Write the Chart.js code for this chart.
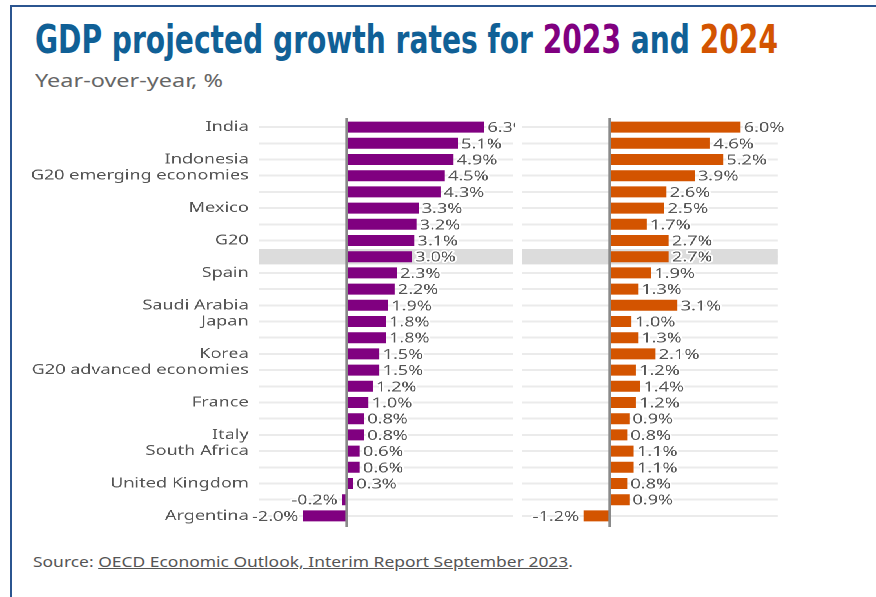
<!DOCTYPE html>
<html>
<head>
<meta charset="utf-8">
<script src="https://cdn.jsdelivr.net/npm/chart.js@4"></script>
<style>
  html, body { margin: 0; padding: 0; background: #fff; }
  body { width: 876px; height: 597px; position: relative; overflow: hidden; font-family: 'Noto Sans', 'Open Sans', sans-serif; }
  .frame { position: absolute; left: 10px; top: 5px; width: 880px; height: 610px; border-top: 2px solid #2b5590; border-left: 2px solid #2b5590; }
  .txt { position: absolute; white-space: nowrap; display: inline-block; transform-origin: 0 0; }
  #title { left: 35px; top: 20px; font-family: 'Liberation Sans Narrow', 'DejaVu Sans Condensed', 'Liberation Sans', sans-serif; font-weight: bold; font-size: 39px; line-height: 39px; color: #106096; }
  #title .y23 { color: #800080; }
  #title .y24 { color: #d35400; }
  #subtitle { left: 35px; top: 71px; font-size: 18px; line-height: 18px; color: #666; }
  #source { left: 33px; top: 554px; font-size: 15px; line-height: 15px; color: #555; }
  #source u { text-decoration: underline; }
  #stage { position: absolute; left: 0; top: 0; width: 680px; height: 597px; transform-origin: 0 0; }
  #stage canvas { position: absolute; }
</style>
</head>
<body>
<div class="frame"></div>
<div id="title" class="txt">GDP projected growth rates for <span class="y23">2023</span> and <span class="y24">2024</span></div>
<div id="subtitle" class="txt">Year-over-year, %</div>
<div id="source" class="txt">Source: <u>OECD Economic Outlook, Interim Report September 2023</u>.</div>
<div id="stage">
  <canvas id="chart2023" width="379" height="420" style="left:20px; top:112px;"></canvas>
  <canvas id="chart2024" width="220" height="420" style="left:405.2px; top:112px;"></canvas>
</div>
<script>
// ── Data ──────────────────────────────────────────────────────────────────────
const countries = [
  'India', '', 'Indonesia', 'G20 emerging economies', '', 'Mexico', '', 'G20', '',
  'Spain', '', 'Saudi Arabia', 'Japan', '', 'Korea', 'G20 advanced economies', '',
  'France', '', 'Italy', 'South Africa', '', 'United Kingdom', '', 'Argentina'
];
const growth2023 = [6.3, 5.1, 4.9, 4.5, 4.3, 3.3, 3.2, 3.1, 3.0, 2.3, 2.2, 1.9, 1.8, 1.8, 1.5, 1.5, 1.2, 1.0, 0.8, 0.8, 0.6, 0.6, 0.3, -0.2, -2.0];
const growth2024 = [6.0, 4.6, 5.2, 3.9, 2.6, 2.5, 1.7, 2.7, 2.7, 1.9, 1.3, 3.1, 1.0, 1.3, 2.1, 1.2, 1.4, 1.2, 0.9, 0.8, 1.1, 1.1, 0.8, 0.9, -1.2];
const highlightRow = 8;

// ── Style ─────────────────────────────────────────────────────────────────────
const STRETCH = 1.29;          // the reference is drawn wide, so the stage is stretched
const PURPLE = '#800080';
const ORANGE = '#d35400';
const GREY_TEXT = '#555555';
const FONT = "'Noto Sans', 'Open Sans', sans-serif";

document.getElementById('stage').style.transform = 'scaleX(' + STRETCH + ')';

// ── Plugins ───────────────────────────────────────────────────────────────────
const rowBand = {
  id: 'rowBand',
  beforeDatasetsDraw(chart) {
    const { ctx, chartArea: a, scales: { y } } = chart;
    const yc = y.getPixelForValue(highlightRow);
    const h = (y.getPixelForValue(1) - y.getPixelForValue(0)) * 0.95;
    ctx.save();
    ctx.fillStyle = '#dcdcdc';
    ctx.fillRect(a.left, yc - h / 2, a.right - a.left, h);
    ctx.restore();
  }
};

const zeroLine = {
  id: 'zeroLine',
  afterDatasetsDraw(chart) {
    const { ctx, chartArea: a, scales: { x } } = chart;
    const x0 = x.getPixelForValue(0);
    ctx.save();
    ctx.strokeStyle = '#8a8a8a';
    ctx.lineWidth = 2;
    ctx.beginPath();
    ctx.moveTo(x0, a.top - 1);
    ctx.lineTo(x0, a.bottom + 3);
    ctx.stroke();
    ctx.restore();
  }
};

const valueLabels = {
  id: 'valueLabels',
  afterDatasetsDraw(chart) {
    const ctx = chart.ctx;
    const meta = chart.getDatasetMeta(0);
    const data = chart.data.datasets[0].data;
    ctx.save();
    ctx.font = '14px ' + FONT;
    ctx.textBaseline = 'middle';
    ctx.lineJoin = 'round';
    meta.data.forEach((bar, i) => {
      const v = data[i];
      const txt = v.toFixed(1) + '%';
      const neg = v < 0;
      ctx.textAlign = neg ? 'right' : 'left';
      const tx = neg ? bar.x - 3.5 : bar.x + 2.5;
      ctx.strokeStyle = '#fff';
      ctx.lineWidth = 3;
      ctx.strokeText(txt, tx, bar.y + 1);
      ctx.fillStyle = GREY_TEXT;
      ctx.fillText(txt, tx, bar.y + 1);
    });
    ctx.restore();
  }
};

// ── Chart builder ─────────────────────────────────────────────────────────────
function makeChart(id, values, color, opts) {
  return new Chart(document.getElementById(id), {
    type: 'bar',
    data: {
      labels: countries,
      datasets: [{
        data: values,
        backgroundColor: color,
        borderWidth: 0,
        categoryPercentage: 1,
        barPercentage: 0.68
      }]
    },
    options: {
      indexAxis: 'y',
      responsive: false,
      animation: false,
      devicePixelRatio: 2,
      layout: { padding: { top: 7, bottom: 8, left: 0, right: opts.padRight } },
      plugins: { legend: { display: false }, tooltip: { enabled: false } },
      scales: {
        x: { display: false, min: opts.min, max: opts.max },
        y: {
          afterFit: s => {
            s.width = opts.axisWidth;
            s.paddingTop = 0;
            s.paddingBottom = 0;
          },
          border: { display: false },
          grid: { offset: false, drawTicks: false, color: '#ebebeb', lineWidth: 2 },
          ticks: {
            display: opts.showLabels,
            autoSkip: false,
            padding: 8,
            color: GREY_TEXT,
            font: { family: FONT, size: 14 }
          }
        }
      }
    },
    plugins: [rowBand, zeroLine, valueLabels]
  });
}

makeChart('chart2023', growth2023, PURPLE, { min: -4.01, max: 7.64, padRight: 1, axisWidth: 180.8, showLabels: true });
makeChart('chart2024', growth2024, ORANGE, { min: -4.0, max: 7.70, padRight: 22.1, axisWidth: 0, showLabels: false });

// ── Text fitting ──────────────────────────────────────────────────────────────
function fitWidth(id, target) {
  const el = document.getElementById(id);
  const w = el.getBoundingClientRect().width;
  el.style.transform = 'scaleX(' + (target / w) + ')';
}
fitWidth('title', 743);
fitWidth('subtitle', 188);
fitWidth('source', 540);
</script>
</body>
</html>
